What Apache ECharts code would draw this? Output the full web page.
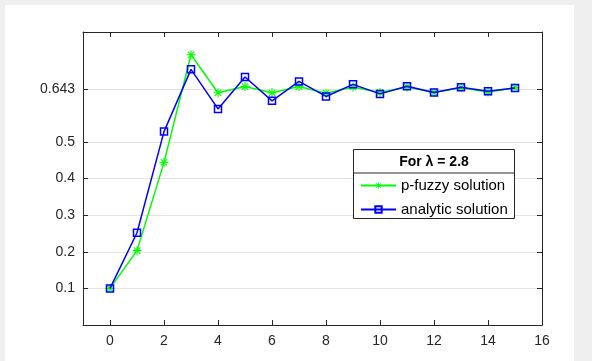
<!DOCTYPE html>
<html>
<head>
<meta charset="utf-8">
<script src="https://cdn.jsdelivr.net/npm/echarts@6/dist/echarts.min.js"></script>
<style>
html,body{margin:0;padding:0;background:#efefef;}
#chart{width:592px;height:361px;}
</style>
</head>
<body>
<div id="chart"></div>
<script>
// ---- data ----
var iterations = [0,1,2,3,4,5,6,7,8,9,10,11,12,13,14,15];
var pFuzzy   = [0.100,0.203,0.444,0.738,0.634,0.651,0.634,0.651,0.633,0.650,0.635,0.650,0.635,0.648,0.636,0.648];
var analytic = [0.100,0.252,0.528,0.698,0.590,0.677,0.612,0.665,0.624,0.657,0.631,0.652,0.635,0.649,0.638,0.647];
var xTickLabels = [0,2,4,6,8,10,12,14,16];
var yTickLabels = [0.1,0.2,0.3,0.4,0.5,0.643];
var seriesNames = ['p-fuzzy solution','analytic solution'];
var legendTitle = 'For λ = 2.8';

var FONT = '"Liberation Sans", Arial, Helvetica, sans-serif';
var AX = '#262626';
var asterisk = 'path://M-1.2,-10L1.2,-10L1.2,10L-1.2,10Z' +
  'M-10,-1.2L10,-1.2L10,1.2L-10,1.2Z' +
  'M-6.22,-7.92L7.92,6.22L6.22,7.92L-7.92,-6.22Z' +
  'M-7.92,6.22L6.22,-7.92L7.92,-6.22L-6.22,7.92Z';

function pairs(ys){ return iterations.map(function(x,i){ return [x, ys[i]]; }); }

var chart = echarts.init(document.getElementById('chart'), null, {renderer:'canvas'});
var axisLineStyle = {color: AX, width: 1};
var option = {
  animation: false,
  backgroundColor: 'transparent',
  graphic: [
    {type:'rect', shape:{x:5,y:5,width:569,height:356}, style:{fill:'#ffffff'}, z:-10, silent:true},
    {type:'rect', shape:{x:353.5,y:149.5,width:161,height:69}, style:{fill:'#ffffff', stroke:AX, lineWidth:1}, z:10},
    {type:'line', shape:{x1:353.5,y1:173,x2:514.5,y2:173}, style:{stroke:AX, lineWidth:1}, z:11},
    {type:'text', x:434, y:162, z:12, style:{text:legendTitle, fill:'#000', font:'bold 14px ' + FONT, align:'center', verticalAlign:'middle'}}
  ],
  grid: {left: 83, right: 50, top: 32, bottom: 36, containLabel: false},
  xAxis: [{
    type:'value', min:-1, max:16, position:'bottom',
    axisLine:{show:true, onZero:false, lineStyle:axisLineStyle},
    axisTick:{show:true, inside:true, length:5, lineStyle:axisLineStyle, customValues:xTickLabels},
    axisLabel:{show:true, color:AX, fontSize:14, fontFamily:FONT, margin:9, customValues:xTickLabels},
    splitLine:{show:false}
  },{
    type:'value', min:-1, max:16, position:'top',
    axisLine:{show:true, onZero:false, lineStyle:axisLineStyle},
    axisTick:{show:true, inside:true, length:5, lineStyle:axisLineStyle, customValues:xTickLabels},
    axisLabel:{show:false},
    splitLine:{show:false}
  }],
  yAxis: [{
    type:'value', min:0, max:0.8, position:'left',
    axisLine:{show:true, onZero:false, lineStyle:axisLineStyle},
    axisTick:{show:true, inside:true, length:5, lineStyle:axisLineStyle, customValues:yTickLabels},
    axisLabel:{show:true, color:AX, fontSize:14, fontFamily:FONT, margin:8, customValues:yTickLabels},
    splitLine:{show:true, lineStyle:{color:'#e3e3e3', width:1}}
  },{
    type:'value', min:0, max:0.8, position:'right',
    axisLine:{show:true, onZero:false, lineStyle:axisLineStyle},
    axisTick:{show:true, inside:true, length:5, lineStyle:axisLineStyle, customValues:yTickLabels},
    axisLabel:{show:false},
    splitLine:{show:false}
  }],
  legend: {
    orient:'vertical', left:355, top:173, itemWidth:35, itemHeight:8, itemGap:9,
    padding:5,
    textStyle:{color:'#000', fontSize:15, fontFamily:FONT},
    data:seriesNames, z:20
  },
  series: [{
    name: seriesNames[0], type:'line', xAxisIndex:0, yAxisIndex:0,
    data: pairs(pFuzzy),
    symbol: asterisk, symbolSize: 9, showAllSymbol:true,
    lineStyle:{color:'#00ff00', width:1.5},
    itemStyle:{color:'#00ff00'},
    z: 2
  },{
    name: seriesNames[1], type:'line', xAxisIndex:0, yAxisIndex:0,
    data: pairs(analytic),
    symbol: 'rect', symbolSize: 7, showAllSymbol:true,
    lineStyle:{color:'#0000ff', width:1.5},
    itemStyle:{color:'rgba(0,0,0,0)', borderColor:'#0000ff', borderWidth:1.5},
    z: 3
  }]
};
chart.setOption(option);
</script>
</body>
</html>
